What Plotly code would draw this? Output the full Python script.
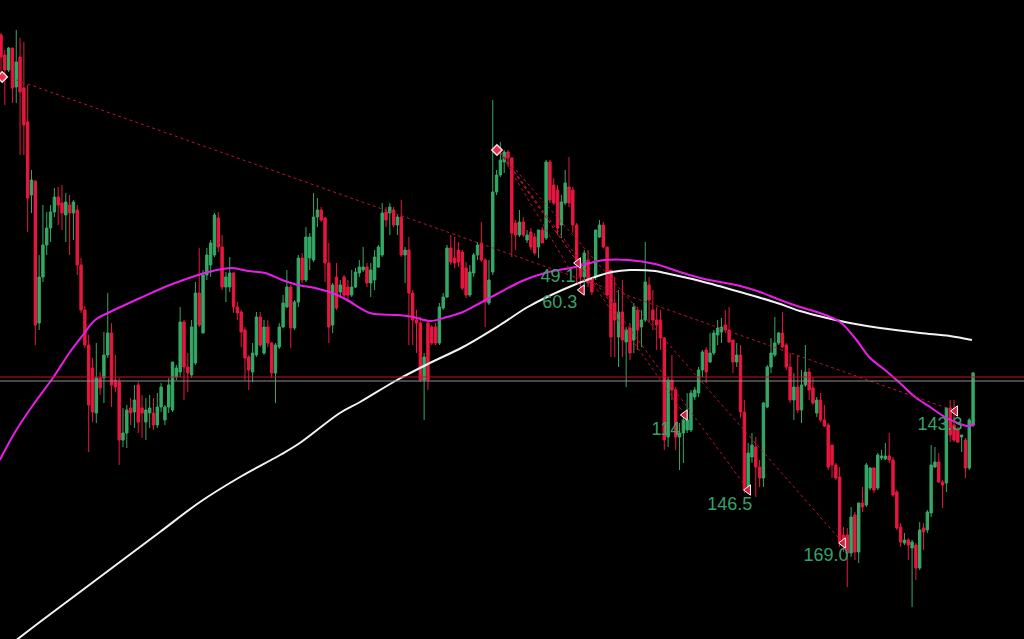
import plotly.graph_objects as go

# ---- candle data (price units, 256 bars) ----
opens = [965,945,930,952,913,943,912,878,805,819,677,723,755,772,788,803,797,785,795,787,
         790,735,690,655,632,587,622,622,645,667,620,618,560,567,592,588,615,592,578,587,
         587,575,593,580,593,590,623,628,678,633,625,637,707,667,725,735,745,782,753,713,
         713,727,693,688,670,643,628,645,683,647,673,657,627,653,673,693,713,672,698,742,
         720,742,740,783,790,782,737,675,723,708,723,713,705,713,727,730,733,717,720,733,
         745,788,787,790,775,783,745,750,707,680,677,620,677,673,673,657,692,703,752,742,
         750,748,732,705,727,745,757,740,697,728,808,825,838,848,842,777,765,778,760,768,
         763,753,770,762,838,815,810,775,797,813,810,775,737,723,740,722,723,763,775,753,
         730,697,663,688,658,672,660,690,673,680,715,690,680,680,662,563,620,610,563,567,
         570,570,603,607,630,650,638,647,665,668,675,670,660,638,645,588,510,543,553,533,
         522,593,633,645,657,667,655,633,600,613,590,615,628,612,587,600,580,575,555,535,
         523,465,465,447,485,448,497,495,512,532,512,542,541,544,540,508,473,457,460,452,
         455,432,472,470,487,533,538,518,517,592,575,570,563,560,532,575]
highs = [967,950,953,952,970,962,958,915,830,819,745,795,788,795,812,813,815,807,805,800,
         795,742,694,665,642,657,628,668,707,677,645,622,592,595,602,615,618,605,602,605,
         602,607,617,595,622,638,635,693,680,647,680,718,752,730,752,760,787,788,765,728,
         743,728,698,690,673,645,657,688,688,680,680,658,657,677,705,730,715,700,745,747,
         773,767,807,802,793,783,757,717,737,720,725,720,730,732,740,753,737,737,750,755,
         797,793,797,793,785,800,753,763,710,690,683,647,680,675,677,697,707,755,765,763,
         758,750,738,735,747,758,778,742,740,900,830,858,850,850,843,780,790,783,770,772,
         767,770,773,840,840,822,815,805,830,843,813,777,740,750,750,723,770,780,778,753,
         730,723,710,720,673,677,697,693,690,758,723,710,693,690,663,623,645,613,577,585,
         607,610,613,633,650,653,667,670,680,682,690,693,660,657,655,600,557,567,563,540,
         598,635,662,683,668,688,657,647,627,645,630,655,632,623,603,607,595,577,555,537,
         533,473,472,493,488,497,513,537,533,533,547,550,557,567,543,510,477,467,462,460,
         457,478,477,490,555,553,547,520,593,600,600,573,565,562,582,628]
lows = [923,895,928,897,897,845,845,768,787,655,670,718,745,758,783,775,770,758,745,760,
        725,687,652,548,578,577,605,597,642,593,608,535,553,552,575,572,567,562,560,572,
        570,572,588,575,587,588,620,623,600,608,622,635,673,667,720,723,743,748,710,698,
        708,687,680,653,620,610,618,643,653,645,653,622,597,651,672,692,652,670,693,717,
        718,730,738,773,778,718,657,667,690,702,702,698,703,712,723,728,713,703,710,732,
        743,773,765,773,765,743,717,655,655,647,618,580,610,655,655,655,690,702,735,732,
        733,710,702,703,723,740,738,673,695,725,805,823,827,833,743,750,763,763,757,750,
        745,742,757,760,797,795,765,762,795,793,767,717,707,713,713,705,720,762,752,703,
        643,643,633,643,613,640,647,650,653,678,677,670,650,650,550,553,600,550,530,537,
        567,568,600,603,623,617,637,645,655,657,667,657,627,633,582,507,507,537,503,513,
        513,592,627,643,655,652,630,597,580,587,577,613,600,595,583,578,573,530,522,520,
        453,448,413,443,440,437,488,493,510,507,510,540,540,537,503,470,453,455,440,393,
        420,430,450,467,483,532,517,492,508,558,558,557,548,522,530,573]
closes = [943,930,952,912,938,908,875,802,820,675,723,755,772,788,803,795,787,798,787,798,
          735,690,655,595,588,622,612,645,667,615,613,560,567,590,587,600,578,587,590,592,
          575,593,613,593,615,638,632,678,633,627,673,707,675,725,745,757,785,753,713,723,
          727,693,687,668,642,630,647,683,655,673,657,627,655,673,697,713,672,698,742,720,
          763,763,783,790,780,737,673,715,692,715,705,705,713,728,733,733,717,730,743,753,
          787,780,793,775,783,745,750,707,680,677,620,643,620,657,657,693,703,752,738,737,
          738,712,705,728,745,755,740,698,720,808,825,840,848,842,767,765,778,765,765,753,
          747,770,757,838,800,797,772,798,817,797,775,737,723,747,717,708,770,775,753,705,
          663,680,688,660,670,647,693,670,680,718,700,680,675,662,560,620,610,563,567,580,
          580,607,610,630,648,628,647,667,672,673,670,658,638,645,588,510,547,555,533,522,
          597,633,647,657,667,653,633,600,613,590,615,628,610,597,600,580,574,533,535,522,
          458,455,447,483,448,497,493,535,532,510,545,544,544,540,505,472,458,460,455,458,
          432,470,468,488,535,538,518,515,592,565,560,558,565,532,580,627]

# ---- moving averages (bar index, price) ----
ma_fast_x = [-0.3,3.7,8.4,13.6,18.1,21.5,24.7,28.6,36.5,44.3,51.7,54.3,60.6,64.8,69.3,73.7,77.9,
             82.4,87.6,90.8,96.8,103.9,108.1,112.5,117.0,121.2,125.7,130.1,136.7,142.7,150.6,
             154.5,158.4,164.5,171.6,178.1,183.4,193.9,199.1,204.4,209.6,214.8,220.1,224.0,
             228.0,231.9,235.8,239.8,243.7,247.6,251.0,253.7,255.5]
ma_fast_y = [540,568,595,622,648,665,680,688,702,715,725,728,732,729,727,720,715,712,706,700,
             687,685,683,679,683,688,697,706,719,727,733,737,740,740,736,728,722,714,708,700,
             693,687,678,662,642,630,617,603,593,583,577,574,576]
ma_slow_x = [3.7,10.2,20.7,31.2,41.7,52.2,62.7,73.2,78.4,88.9,94.2,103.9,112.5,121.2,130.9,
             138.2,147.2,155.8,160.3,165.0,171.6,174.2,183.4,193.9,203.6,209.6,216.7,222.7,
             230.6,241.1,248.9,254.7]
ma_slow_y = [359,378,408,438,468,498,523,545,557,587,598,620,637,653,675,693,710,723,728,730,
             729,727,719,708,697,689,682,677,672,667,664,660]

# ---- swing lines / labels ----
trend_start = (1.05, 924)
trend_end = (250.3, 589)
fan_start = (130.9, 848)
fan_x = [151.4, 152.4, 179.4, 196.0, 220.9]
fan_y = [737, 710, 585, 510, 457]
label_text = ["49.1", "60.3", "114", "146.5", "169.0", "143.3"]
label_x = [146.1, 146.6, 174.4, 191.2, 216.4, 246.3]
label_y = [723, 697, 570, 495, 444, 575]
pivot_x = [0.3, 130.1]
pivot_y = [923, 850]
level_red = 623
level_gray = 619

RED = "#e8173f"
GREEN = "#35a866"
x = list(range(len(closes)))

fig = go.Figure()
fig.add_trace(go.Candlestick(
    x=x, open=opens, high=highs, low=lows, close=closes,
    increasing=dict(line=dict(color=GREEN, width=1), fillcolor=GREEN),
    decreasing=dict(line=dict(color=RED, width=1), fillcolor=RED),
    whiskerwidth=0, hoverinfo="skip"))

fig.add_trace(go.Scatter(x=ma_slow_x, y=ma_slow_y, mode="lines", line=dict(color="#f2f2f2", width=2, shape="spline"), hoverinfo="skip"))
fig.add_trace(go.Scatter(x=ma_fast_x, y=ma_fast_y, mode="lines", line=dict(color="#e81ee8", width=2, shape="spline"), hoverinfo="skip"))

dash_style = dict(color="#c0112f", width=1, dash="3px,3px")
fig.add_trace(go.Scatter(x=[trend_start[0], trend_end[0]], y=[trend_start[1], trend_end[1]],
                         mode="lines", line=dash_style, hoverinfo="skip"))
for fx, fy in zip(fan_x, fan_y):
    fig.add_trace(go.Scatter(x=[fan_start[0], fx], y=[fan_start[1], fy], mode="lines",
                             line=dash_style, hoverinfo="skip"))

tri_x = fan_x + [trend_end[0]]
tri_y = fan_y + [trend_end[1]]
fig.add_trace(go.Scatter(x=tri_x, y=tri_y, mode="markers",
                         marker=dict(symbol="triangle-left", size=9, color="#d0203f",
                                     line=dict(color="#ffffff", width=1)), hoverinfo="skip"))
fig.add_trace(go.Scatter(x=pivot_x, y=pivot_y, mode="markers",
                         marker=dict(symbol="diamond", size=8, color="#e8304f",
                                     line=dict(color="#ffdddd", width=1.5)), hoverinfo="skip"))
fig.add_trace(go.Scatter(x=label_x, y=label_y, mode="text", text=label_text,
                         textfont=dict(family="Liberation Sans, Arial", size=18, color="#37a06a"),
                         hoverinfo="skip"))

fig.add_hline(y=level_red, line=dict(color="#c8141e", width=1))
fig.add_hline(y=level_gray, line=dict(color="#8c8c9a", width=1))

fig.update_layout(
    width=1024, height=639, margin=dict(l=0, r=0, t=0, b=0),
    paper_bgcolor="#000000", plot_bgcolor="#000000", showlegend=False,
    boxgap=0.1, hovermode=False,
    xaxis=dict(range=[-0.262, 268.36], visible=False, rangeslider=dict(visible=False), fixedrange=True),
    yaxis=dict(range=[361, 1000], visible=False, fixedrange=True),
)
fig.write_html("out.html", config={"displayModeBar": False, "staticPlot": True},
               post_script="document.body.style.margin='0px';document.body.style.overflow='hidden';document.body.style.background='#000';")
